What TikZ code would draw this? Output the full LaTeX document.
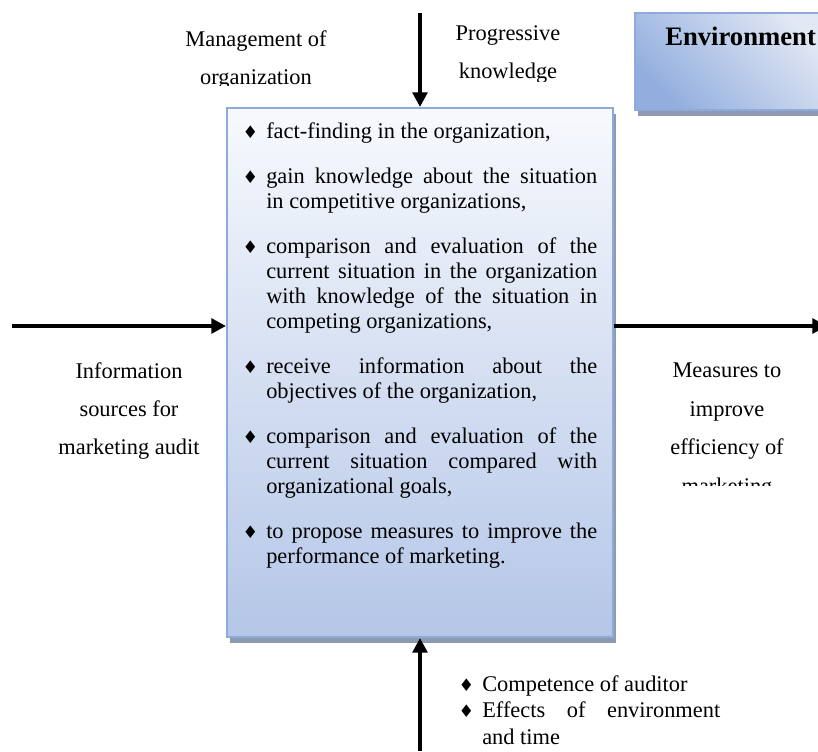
\documentclass[tikz,border=0pt]{standalone}
\usepackage{fontspec}
\setmainfont{Liberation Serif}
\newfontfamily\symbfont{DejaVu Sans}
\usepackage{tikz}
\usetikzlibrary{arrows.meta,shadows}
\definecolor{boxtop}{RGB}{247,249,253}
\definecolor{boxblue}{RGB}{180,198,231}
\definecolor{boxline}{RGB}{142,170,219}
\definecolor{shadegray}{RGB}{141,154,176}
\definecolor{envblue}{RGB}{146,174,222}
\definecolor{envlight}{RGB}{226,232,244}
\newcommand{\dia}{{\symbfont\fontsize{13}{13}\selectfont ♦}}
\newcommand{\bul}{\leavevmode\llap{\dia\hspace{6pt}}}
\newcommand{\wordpar}{\spaceskip=4.2pt plus 30pt\relax\xspaceskip=\spaceskip\hyphenpenalty=10000\exhyphenpenalty=10000\tolerance=10000\relax}
\newcommand{\bodyfont}{\fontsize{16.8}{18.75}\selectfont\wordpar}

\begin{document}
\begin{tikzpicture}[x=0.75pt,y=-0.75pt]
% Node styles ---
\tikzstyle{proc} = [rectangle, draw = boxline, line width = 1.5pt, top color = boxtop, bottom color = boxblue, drop shadow = {shadow xshift = 2.25pt, shadow yshift = -4.5pt, fill = shadegray, opacity = 1}, minimum width = 289.5pt, minimum height = 396.75pt] % Audit process
\tikzstyle{env} = [rectangle, draw = boxline, line width = 1.5pt, top color = envlight, bottom color = envblue, shading angle = -45, drop shadow = {shadow xshift = 2.25pt, shadow yshift = -4.5pt, fill = shadegray, opacity = 1}, minimum width = 146.25pt, minimum height = 72.75pt] % Environment
\tikzstyle{items} = [inner sep = 0pt, align = justify, font = \bodyfont] % Lists
\tikzstyle{lab} = [inner sep = 0pt, align = center, font = \fontsize{16.8}{28.8}\selectfont] % Labels
% Edge styles
\tikzstyle{con} = [-{Triangle[length = 11pt, width = 11pt]}, line width = 3.5pt] % Flows
% Begin Figure ---
\clip (0,0) rectangle (818,751);
% Nodes
\node at (420,372.5) [proc] (audit) {};
\node at (732.5,61.5) [env] (envbox) {};
\node at (665,45) [anchor = base west, inner sep = 0pt, font = \fontsize{20}{24}\selectfont\bfseries] (envtext) {Environment};
\node at (266,122) [items, text width = 248.25pt, anchor = north west] (steps) {\setlength{\parskip}{15pt}%
\bul fact-finding in the organization,\par
\bul gain knowledge about the situation in competitive organizations,\par
\bul comparison and evaluation of the current situation in the organization with knowledge of the situation in competing organizations,\par
\bul receive information about the objectives of the organization,\par
\bul comparison and evaluation of the current situation compared with organizational goals,\par
\bul to propose measures to improve the performance of marketing.};
\node at (482,675) [items, text width = 178.5pt, anchor = north west, font = \fontsize{16.8}{20}\selectfont\wordpar] (factors) {%
\bul Competence of auditor\par
\bul Effects of environment and time};
\begin{scope}
\clip (150,0) rectangle (400,85);
\node at (256,30) [lab, anchor = north] (mgmt) {Management of\\organization};
\end{scope}
\begin{scope}
\clip (440,0) rectangle (620,81);
\node at (508,25) [lab, anchor = north] (prog) {Progressive\\knowledge};
\end{scope}
\node at (129,362) [lab, anchor = north] (info) {Information\\sources for\\marketing audit};
\begin{scope}
\clip (640,300) rectangle (818,485);
\node at (727,363) [lab, anchor = north] (meas) {Measures to\\improve\\efficiency of\\marketing};
\end{scope}
% Coordinates
\coordinate (topin) at (420,13);
\coordinate (botin) at (420,751);
\coordinate (leftin) at (12,326);
\coordinate (rightout) at (827,326);
% Paths
\path (topin) edge [con] (audit.north);
\path (botin) edge [con] (audit.south);
\path (leftin) edge [con] (leftin -| audit.west);
\path (leftin -| audit.east) edge [con] (rightout);
\end{tikzpicture}
\end{document}
